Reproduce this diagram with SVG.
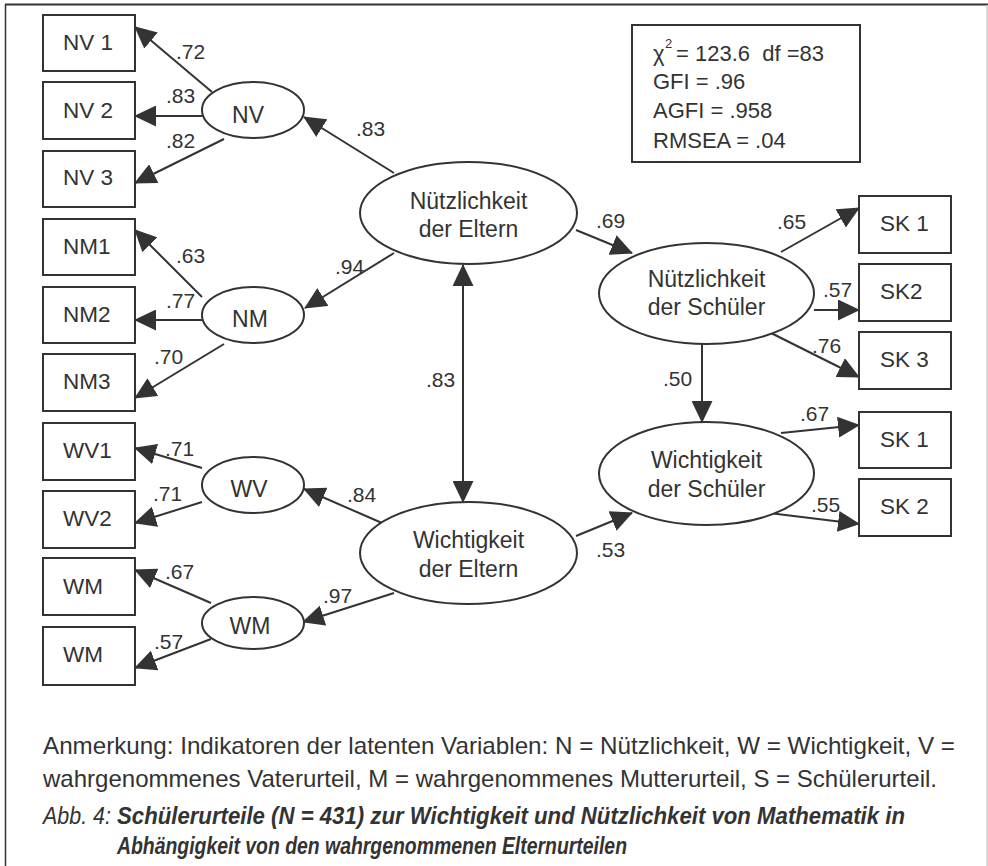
<svg xmlns="http://www.w3.org/2000/svg" width="988" height="866" viewBox="0 0 988 866">
<style>
.box{fill:#fff;stroke:#333;stroke-width:2}
.ell{fill:#fff;stroke:#333;stroke-width:2}
.t{font-family:"Liberation Sans",Arial,sans-serif;fill:#333}
.bt{font-size:22.5px}
.et{font-size:23px;text-anchor:middle}
.lt{font-size:21px}
.st{font-size:22px}
.c{stroke:#333;stroke-width:2;fill:none;marker-end:url(#ah)}
.cap{font-family:"Liberation Sans",Arial,sans-serif;fill:#333;font-size:24px}
</style>
<defs>
<marker id="ah" viewBox="0 0 22 21" markerWidth="22" markerHeight="21" refX="21" refY="10.5" orient="auto" markerUnits="userSpaceOnUse"><path d="M0,0 L22,10.5 L0,21 z" fill="#333"/></marker>
<marker id="ahs" viewBox="0 0 22 21" markerWidth="22" markerHeight="21" refX="21" refY="10.5" orient="auto-start-reverse" markerUnits="userSpaceOnUse"><path d="M0,0 L22,10.5 L0,21 z" fill="#333"/></marker>
<clipPath id="clip1"><rect x="55" y="560" width="40" height="49"/></clipPath>
<clipPath id="clip2"><rect x="55" y="629" width="40" height="48"/></clipPath>
</defs>
<rect x="0" y="0" width="988" height="866" fill="#fff"/>
<g id="frame">
<line x1="5.5" y1="4" x2="5.5" y2="866" stroke="#333" stroke-width="1.5"/>
<line x1="5" y1="4.5" x2="988" y2="4.5" stroke="#333" stroke-width="2"/>
<line x1="987" y1="5" x2="987" y2="866" stroke="#ccc" stroke-width="1.5"/>
</g>
<g id="connectors">
<line class="c" x1="212" y1="92" x2="135" y2="27"/>
<line class="c" x1="202" y1="116" x2="135" y2="116"/>
<line class="c" x1="224" y1="139" x2="135" y2="183"/>
<line class="c" x1="394" y1="173" x2="304" y2="117"/>
<line class="c" x1="202" y1="297" x2="135" y2="230"/>
<line class="c" x1="202" y1="320" x2="135" y2="320"/>
<line class="c" x1="224" y1="344" x2="135" y2="398"/>
<line class="c" x1="394" y1="253" x2="305" y2="308"/>
<line x1="463" y1="265" x2="463" y2="502" stroke="#333" stroke-width="2" marker-start="url(#ahs)" marker-end="url(#ah)"/>
<line class="c" x1="382" y1="523" x2="304" y2="489"/>
<line class="c" x1="394" y1="593" x2="303" y2="622"/>
<line class="c" x1="202" y1="468" x2="135" y2="448"/>
<line class="c" x1="202" y1="502" x2="135" y2="523"/>
<line class="c" x1="211" y1="603" x2="135" y2="570"/>
<line class="c" x1="211" y1="639" x2="135" y2="668"/>
<line class="c" x1="576" y1="230" x2="632" y2="253"/>
<line class="c" x1="576" y1="536" x2="632" y2="513"/>
<line class="c" x1="781" y1="252" x2="859" y2="208"/>
<line class="c" x1="814" y1="310" x2="859" y2="310"/>
<line class="c" x1="769" y1="332" x2="859" y2="377"/>
<line class="c" x1="702" y1="344" x2="702" y2="422"/>
<line class="c" x1="781" y1="433" x2="859" y2="425"/>
<line class="c" x1="769" y1="513" x2="859" y2="524"/>
</g>
<g id="labels" class="t lt">
<text x="176" y="59">.72</text>
<text x="166" y="103">.83</text>
<text x="166" y="148">.82</text>
<text x="356" y="136">.83</text>
<text x="176" y="263">.63</text>
<text x="166" y="308">.77</text>
<text x="154" y="364">.70</text>
<text x="335" y="274">.94</text>
<text x="426" y="387">.83</text>
<text x="347" y="502">.84</text>
<text x="323" y="603">.97</text>
<text x="165" y="456">.71</text>
<text x="153" y="501">.71</text>
<text x="165" y="579">.67</text>
<text x="154" y="649">.57</text>
<text x="596" y="228">.69</text>
<text x="596" y="557">.53</text>
<text x="777" y="229">.65</text>
<text x="823" y="297">.57</text>
<text x="812" y="353">.76</text>
<text x="663" y="386">.50</text>
<text x="800" y="421">.67</text>
<text x="811" y="512">.55</text>
</g>
<g id="NV1"><rect class="box" x="43" y="15" width="92" height="56"/><text class="t bt" x="63" y="50">NV 1</text></g>
<g id="NV2"><rect class="box" x="43" y="82" width="92" height="57"/><text class="t bt" x="63" y="118">NV 2</text></g>
<g id="NV3"><rect class="box" x="43" y="151" width="92" height="56"/><text class="t bt" x="63" y="185">NV 3</text></g>
<g id="NM1"><rect class="box" x="43" y="219" width="92" height="56"/><text class="t bt" x="63" y="254">NM1</text></g>
<g id="NM2"><rect class="box" x="43" y="287" width="92" height="56"/><text class="t bt" x="63" y="322">NM2</text></g>
<g id="NM3"><rect class="box" x="43" y="354" width="92" height="57"/><text class="t bt" x="63" y="389">NM3</text></g>
<g id="WV1"><rect class="box" x="43" y="423" width="92" height="57"/><text class="t bt" x="63" y="458">WV1</text></g>
<g id="WV2"><rect class="box" x="43" y="491" width="92" height="57"/><text class="t bt" x="63" y="526">WV2</text></g>
<g id="WM1"><rect class="box" x="43" y="558" width="92" height="57"/><text class="t bt" x="63" y="594">WM</text><text class="t bt" x="63" y="625" clip-path="url(#clip1)">1</text></g>
<g id="WM2"><rect class="box" x="43" y="627" width="92" height="58"/><text class="t bt" x="63" y="662">WM</text><text class="t bt" x="63" y="693" clip-path="url(#clip2)">2</text></g>
<g id="NV"><ellipse class="ell" cx="253" cy="110" rx="51" ry="28"/><text class="t et" x="248" y="123">NV</text></g>
<g id="NM"><ellipse class="ell" cx="253" cy="315" rx="51" ry="28"/><text class="t et" x="250" y="327">NM</text></g>
<g id="WV"><ellipse class="ell" cx="253" cy="485" rx="51" ry="28"/><text class="t et" x="249" y="497">WV</text></g>
<g id="WM"><ellipse class="ell" cx="253" cy="623" rx="51" ry="26"/><text class="t et" x="250" y="634">WM</text></g>
<g id="NdE"><ellipse class="ell" cx="468.5" cy="213" rx="108.5" ry="51"/><text class="t et" x="468.5" y="209">Nützlichkeit</text><text class="t et" x="468.5" y="237">der Eltern</text></g>
<g id="WdE"><ellipse class="ell" cx="468.5" cy="553" rx="108.5" ry="51"/><text class="t et" x="468.5" y="548">Wichtigkeit</text><text class="t et" x="468.5" y="577">der Eltern</text></g>
<g id="NdS"><ellipse class="ell" cx="706.5" cy="293.5" rx="107.5" ry="50.5"/><text class="t et" x="706.5" y="287">Nützlichkeit</text><text class="t et" x="706.5" y="315">der Schüler</text></g>
<g id="WdS"><ellipse class="ell" cx="706.5" cy="473.5" rx="107.5" ry="51.5"/><text class="t et" x="706.5" y="468">Wichtigkeit</text><text class="t et" x="706.5" y="497">der Schüler</text></g>
<g id="SK1a"><rect class="box" x="859" y="196" width="92" height="57"/><text class="t bt" x="880" y="231">SK 1</text></g>
<g id="SK2a"><rect class="box" x="859" y="264" width="92" height="57"/><text class="t bt" x="880" y="299">SK2</text></g>
<g id="SK3a"><rect class="box" x="859" y="332" width="92" height="57"/><text class="t bt" x="880" y="367">SK 3</text></g>
<g id="SK1b"><rect class="box" x="859" y="412" width="92" height="56"/><text class="t bt" x="880" y="447">SK 1</text></g>
<g id="SK2b"><rect class="box" x="859" y="479" width="92" height="57"/><text class="t bt" x="880" y="514">SK 2</text></g>
<g id="stats">
<rect class="box" x="632" y="25" width="228" height="137"/>
<text class="t st" x="653" y="61">χ</text>
<text class="t" x="665" y="48" font-size="13">2</text>
<text class="t st" x="676" y="61" xml:space="preserve">= 123.6  df =83</text>
<text class="t st" x="653" y="89">GFI = .96</text>
<text class="t st" x="653" y="118">AGFI = .958</text>
<text class="t st" x="653" y="148">RMSEA = .04</text>
</g>
<g id="caption">
<text class="cap" x="43" y="754" textLength="912" lengthAdjust="spacingAndGlyphs">Anmerkung: Indikatoren der latenten Variablen: N = Nützlichkeit, W = Wichtigkeit, V =</text>
<text class="cap" x="43" y="787" textLength="894" lengthAdjust="spacingAndGlyphs">wahrgenommenes Vaterurteil, M = wahrgenommenes Mutterurteil, S = Schülerurteil.</text>
<text class="cap" x="43" y="824" font-style="italic" textLength="68" lengthAdjust="spacingAndGlyphs">Abb. 4:</text>
<text class="cap" x="117" y="824" font-style="italic" font-weight="bold" textLength="788" lengthAdjust="spacingAndGlyphs">Schülerurteile (N = 431) zur Wichtigkeit und Nützlichkeit von Mathematik in</text>
<text class="cap" x="117" y="854" font-style="italic" font-weight="bold" textLength="510" lengthAdjust="spacingAndGlyphs">Abhängigkeit von den wahrgenommenen Elternurteilen</text>
</g>
</svg>
